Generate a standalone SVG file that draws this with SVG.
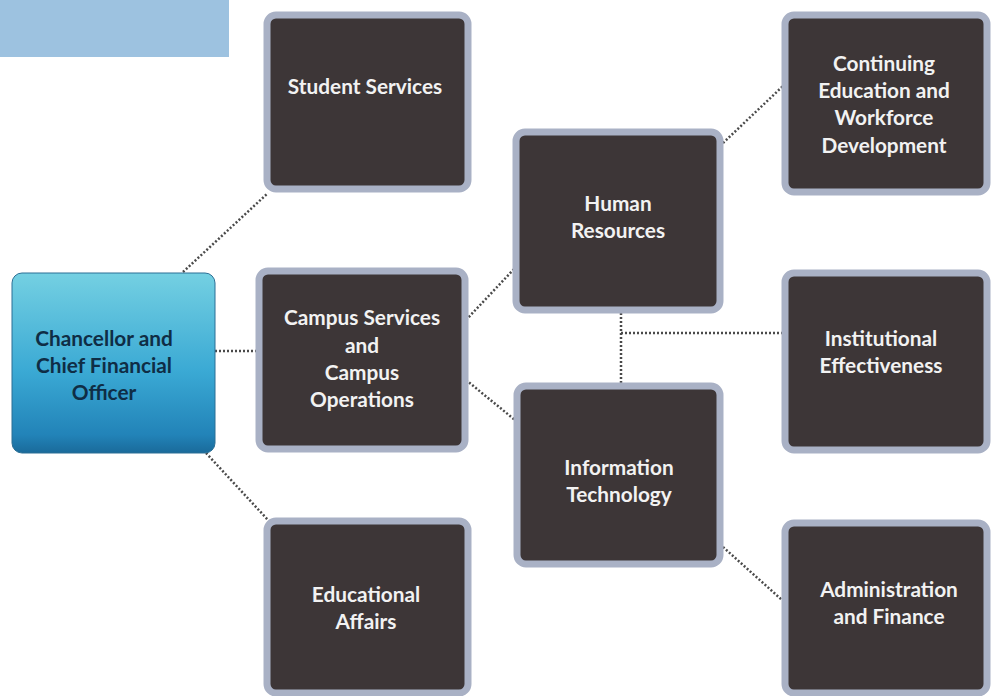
<svg xmlns="http://www.w3.org/2000/svg" width="995" height="696" viewBox="0 0 995 696">
<defs>
<linearGradient id="blueGrad" x1="0" y1="0" x2="0" y2="1">
<stop offset="0" stop-color="#74d0e2"/>
<stop offset="0.55" stop-color="#3aa9d4"/>
<stop offset="0.9" stop-color="#2283b8"/>
<stop offset="1" stop-color="#1a6a9a"/>
</linearGradient>
</defs>
<style>
.box{fill:#3d3637;stroke:#a9b1c5;stroke-width:7}
.lbl{font-family:Lato,"Open Sans",sans-serif;font-weight:bold;font-size:20.8px;fill:#f2f2f2;text-anchor:middle}
.dark{fill:#0f2d45}
.con{stroke:#4a4a4a;stroke-width:2.5;stroke-dasharray:2 2;fill:none}
</style>
<rect width="995" height="696" fill="#ffffff"/>
<g id="banner"><rect x="0" y="0" width="229" height="57" fill="#9dc2e0"/></g>
<g id="connectors">
<line class="con" x1="183" y1="272" x2="268" y2="193"/>
<line class="con" x1="215" y1="351" x2="256" y2="351"/>
<line class="con" x1="206" y1="453" x2="268" y2="520"/>
<line class="con" x1="466" y1="320" x2="515" y2="268"/>
<line class="con" x1="466" y1="380" x2="515" y2="420"/>
<line class="con" x1="723" y1="143" x2="783" y2="86"/>
<line class="con" x1="621" y1="313" x2="621" y2="383"/>
<line class="con" x1="621" y1="333" x2="782" y2="333"/>
<line class="con" x1="723" y1="547" x2="782" y2="600"/>
</g>
<g id="chancellor">
<rect x="12" y="273" width="203" height="180" rx="10" fill="url(#blueGrad)" stroke="#2b6f95" stroke-width="1"/>
<text class="lbl dark" x="104" y="346">Chancellor and</text>
<text class="lbl dark" x="104" y="373">Chief Financial</text>
<text class="lbl dark" x="104" y="400">Officer</text>
</g>
<g id="student-services">
<rect class="box" x="267" y="15" width="201" height="174" rx="9"/>
<text class="lbl" x="365" y="94">Student Services</text>
</g>
<g id="campus-services">
<rect class="box" x="259" y="271" width="206" height="178" rx="9"/>
<text class="lbl" x="362" y="325">Campus Services</text>
<text class="lbl" x="362" y="353">and</text>
<text class="lbl" x="362" y="380">Campus</text>
<text class="lbl" x="362" y="407">Operations</text>
</g>
<g id="educational-affairs">
<rect class="box" x="267" y="521" width="201" height="172" rx="9"/>
<text class="lbl" x="366" y="602">Educational</text>
<text class="lbl" x="366" y="629">Affairs</text>
</g>
<g id="human-resources">
<rect class="box" x="516" y="132" width="204" height="178" rx="9"/>
<text class="lbl" x="618" y="211">Human</text>
<text class="lbl" x="618" y="238">Resources</text>
</g>
<g id="information-technology">
<rect class="box" x="517" y="386" width="203" height="178" rx="9"/>
<text class="lbl" x="619" y="475">Information</text>
<text class="lbl" x="619" y="502">Technology</text>
</g>
<g id="continuing-education">
<rect class="box" x="785" y="15" width="202" height="177" rx="9"/>
<text class="lbl" x="884" y="71">Continuing</text>
<text class="lbl" x="884" y="98">Education and</text>
<text class="lbl" x="884" y="125">Workforce</text>
<text class="lbl" x="884" y="153">Development</text>
</g>
<g id="institutional-effectiveness">
<rect class="box" x="785" y="273" width="202" height="177" rx="9"/>
<text class="lbl" x="881" y="346">Institutional</text>
<text class="lbl" x="881" y="373">Effectiveness</text>
</g>
<g id="administration-finance">
<rect class="box" x="785" y="523" width="202" height="170" rx="9"/>
<text class="lbl" x="889" y="597">Administration</text>
<text class="lbl" x="889" y="624">and Finance</text>
</g>
</svg>
